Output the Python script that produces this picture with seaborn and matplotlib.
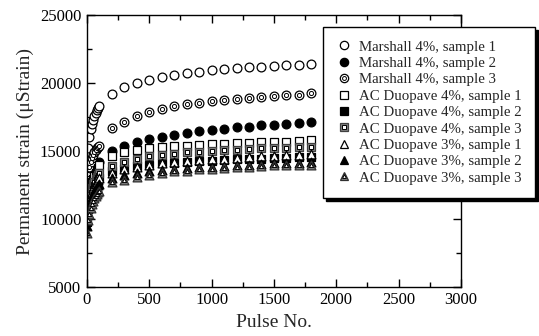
import numpy as np
import pandas as pd
import seaborn as sns
import matplotlib
matplotlib.use("Agg")
import matplotlib.pyplot as plt
from matplotlib.ticker import MultipleLocator

# pulse numbers at which strain was recorded
pulses = [1, 10, 20, 30, 40, 50, 60, 70, 80, 90, 100,
          200, 300, 400, 500, 600, 700, 800, 900, 1000,
          1100, 1200, 1300, 1400, 1500, 1600, 1700, 1800]

marshall_s1 = [13700, 15200, 16000, 16600, 17000, 17300, 17600, 17800, 18000, 18150, 18300,
               19200, 19700, 20000, 20250, 20450, 20600, 20750, 20850, 20950,
               21050, 21100, 21150, 21200, 21250, 21300, 21350, 21400]
marshall_s2 = [11000, 12000, 12500, 12900, 13200, 13450, 13650, 13800, 13950, 14100, 14200,
               15000, 15400, 15650, 15850, 16050, 16200, 16350, 16450, 16550,
               16650, 16750, 16800, 16900, 16950, 17000, 17050, 17100]
marshall_s3 = [12300, 13300, 13800, 14200, 14500, 14700, 14900, 15050, 15200, 15300, 15400,
               16700, 17100, 17550, 17850, 18100, 18300, 18450, 18550, 18650,
               18750, 18850, 18900, 18950, 19050, 19100, 19150, 19250]
ac4_s1 = [10500, 11500, 12000, 12400, 12700, 12950, 13150, 13350, 13550, 13750, 13950,
          14600, 14900, 15050, 15200, 15300, 15350, 15400, 15450, 15500,
          15550, 15600, 15600, 15650, 15700, 15700, 15750, 15800]
ac4_s2 = [9800, 10700, 11200, 11600, 11900, 12150, 12350, 12550, 12700, 12850, 13000,
          13500, 13700, 13900, 14000, 14100, 14150, 14200, 14250, 14300,
          14350, 14400, 14400, 14450, 14500, 14500, 14550, 14550]
ac4_s3 = [10200, 11100, 11600, 12000, 12300, 12550, 12750, 12950, 13100, 13250, 13350,
          13900, 14200, 14400, 14600, 14700, 14800, 14900, 14950, 15000,
          15050, 15100, 15150, 15200, 15200, 15250, 15300, 15300]
ac3_s1 = [9900, 10800, 11300, 11700, 12000, 12250, 12450, 12600, 12750, 12900, 13000,
          13400, 13700, 13850, 14000, 14100, 14200, 14300, 14350, 14400,
          14450, 14500, 14550, 14600, 14650, 14700, 14700, 14750]
ac3_s2 = [9500, 10400, 10900, 11300, 11600, 11850, 12050, 12200, 12350, 12500, 12600,
          13000, 13200, 13400, 13500, 13600, 13700, 13750, 13800, 13850,
          13900, 13950, 14000, 14050, 14100, 14100, 14150, 14200]
ac3_s3 = [9000, 9900, 10400, 10800, 11100, 11350, 11550, 11700, 11850, 11950, 12050,
          12700, 12900, 13100, 13250, 13400, 13500, 13550, 13650, 13700,
          13750, 13800, 13850, 13900, 13950, 13950, 14000, 14000]

labels = ["Marshall 4%, sample 1", "Marshall 4%, sample 2", "Marshall 4%, sample 3",
          "AC Duopave 4%, sample 1", "AC Duopave 4%, sample 2", "AC Duopave 4%, sample 3",
          "AC Duopave 3%, sample 1", "AC Duopave 3%, sample 2", "AC Duopave 3%, sample 3"]
series = [marshall_s1, marshall_s2, marshall_s3, ac4_s1, ac4_s2, ac4_s3, ac3_s1, ac3_s2, ac3_s3]

# marker styles: (shape, face, edge, inner marker or None)
styles = [("o", "white", "black", None),
          ("o", "black", "black", None),
          ("o", "white", "black", "o"),
          ("s", "white", "black", None),
          ("s", "black", "black", None),
          ("s", "#808080", "#404040", "s"),
          ("^", "white", "black", None),
          ("^", "black", "black", None),
          ("^", "#808080", "#303030", "^")]

sns.set_style("ticks")
plt.rcParams["font.family"] = ["Liberation Serif", "DejaVu Serif"]

fig = plt.figure(figsize=(5.39, 3.36), dpi=100)
ax = fig.add_axes([0.1614, 0.146, 0.6936, 0.809])

size = 40
handles = []
for lab, ys, (m, fc, ec, inner) in zip(labels, series, styles):
    df = pd.DataFrame({"pulse": pulses, "strain": ys})
    sns.scatterplot(data=df, x="pulse", y="strain", ax=ax, marker=m, s=size,
                    color=fc, edgecolor=ec, linewidth=0.9, legend=False)
    h_outer = plt.Line2D([], [], ls="", marker=m, markersize=6, markerfacecolor=fc,
                         markeredgecolor=ec, markeredgewidth=0.9)
    if inner is not None:
        sns.scatterplot(data=df, x="pulse", y="strain", ax=ax, marker=inner, s=size * 0.22,
                        color="white", edgecolor="black", linewidth=0.7, legend=False)
        h_inner = plt.Line2D([], [], ls="", marker=inner, markersize=2.8, markerfacecolor="white",
                             markeredgecolor="black", markeredgewidth=0.7)
        handles.append((h_outer, h_inner))
    else:
        handles.append(h_outer)

ax.set_xlim(0, 3000)
ax.set_ylim(5000, 25000)
ax.xaxis.set_major_locator(MultipleLocator(500))
ax.xaxis.set_minor_locator(MultipleLocator(250))
ax.yaxis.set_major_locator(MultipleLocator(5000))
ax.yaxis.set_minor_locator(MultipleLocator(2500))
ax.tick_params(which="both", direction="in", top=True, right=True, width=1, colors="black",
               labelsize=12, pad=4)
ax.tick_params(which="major", length=6)
ax.tick_params(which="minor", length=3.5)
for sp in ax.spines.values():
    sp.set_linewidth(1)
    sp.set_color("black")

ax.set_xlabel("Pulse No.", fontsize=14, labelpad=4)
ax.set_ylabel("Permanent strain (μStrain)", fontsize=14, labelpad=4)

leg = fig.legend(handles, labels, loc="upper left", bbox_to_anchor=(0.599, 0.92),
                 fontsize=10.7, frameon=True, fancybox=False,
                 shadow={"color": "black", "alpha": 1},
                 labelspacing=0.2, handlelength=1.0, handletextpad=0.55,
                 borderpad=0.9, borderaxespad=0)
leg.get_frame().set_edgecolor("black")
leg.get_frame().set_linewidth(1)

fig.savefig("out.png", dpi=100)
